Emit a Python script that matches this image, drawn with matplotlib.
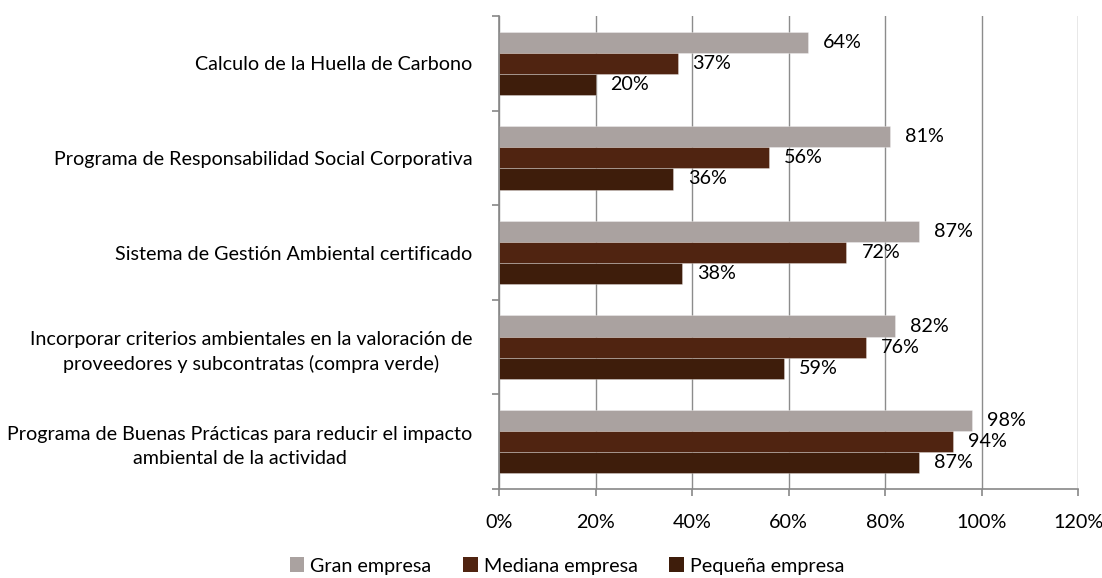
import matplotlib
matplotlib.use("Agg")
import matplotlib.pyplot as plt
import matplotlib.transforms as mtransforms
import numpy as np
from matplotlib.patches import Patch

plt.rcParams['font.family'] = ['Lato', 'DejaVu Sans']

categories = [
    "Calculo de la Huella de Carbono",
    "Programa de Responsabilidad Social Corporativa",
    "Sistema de Gestión Ambiental certificado",
    "Incorporar criterios ambientales en la valoración de\nproveedores y subcontratas (compra verde)",
    "Programa de Buenas Prácticas para reducir el impacto\nambiental de la actividad",
]
series_names = ["Gran empresa", "Mediana empresa", "Pequeña empresa"]
gran = [64, 81, 87, 82, 98]
mediana = [37, 56, 72, 76, 94]
pequena = [20, 36, 38, 59, 87]
xticks = [0, 20, 40, 60, 80, 100, 120]

colors = ["#AAA2A0", "#502411", "#3E1D0B"]
FS = 14.2

fig = plt.figure(figsize=(11.02, 5.78), dpi=100)
ax = fig.add_axes([499/1102, 1 - 489/578, (1078-499)/1102, (489-16)/578])

y = np.arange(len(categories))
h = 0.223
offsets = [-h, 0, h]
for vals, off, c, name in zip([gran, mediana, pequena], offsets, colors, series_names):
    vals = np.array(vals) / 100.0
    bars = ax.barh(y + off, vals, height=h, color=c, edgecolor=(1, 1, 1, 0.35), linewidth=0.6,
                   label=name, zorder=2)
    for b, v in zip(bars, vals):
        ax.annotate(f"{v*100:.0f}%", (b.get_width(), b.get_y() + b.get_height()/2),
                    xytext=(15, 0), textcoords='offset pixels', va='center', ha='left',
                    fontsize=FS, color='black')

ax.set_xlim(0, 1.2)
ax.set_ylim(len(categories) - 0.5, -0.5)
ax.set_xticks(np.array(xticks) / 100.0)
ax.set_xticklabels([f"{t}%" for t in xticks], fontsize=FS)
ax.set_yticks(np.arange(len(categories) + 1) - 0.5)
ax.set_yticklabels([])
ax.set_yticks(y, minor=True)
ylabels = ax.set_yticklabels(categories, minor=True, fontsize=FS, multialignment='center', linespacing=1.45)
shift = mtransforms.ScaledTranslation(0, 4/100, fig.dpi_scale_trans)
for lab in ylabels:
    lab.set_transform(lab.get_transform() + shift)
ax.tick_params(axis='y', which='minor', length=0, pad=19)
ax.tick_params(axis='y', which='major', length=5, color='#888888', width=1.2)
ax.tick_params(axis='x', length=5, color='#888888', width=1.2, pad=13)

ax.grid(axis='x', color='#8C8C8C', linewidth=1.0, zorder=0)
ax.set_axisbelow(True)
for s in ['top', 'right']:
    ax.spines[s].set_visible(False)
for s in ['left', 'bottom']:
    ax.spines[s].set_color('#888888')
    ax.spines[s].set_linewidth(1.2)

handles = [Patch(facecolor=c, edgecolor='none') for c in colors]
fig.legend(handles, series_names, loc='center', bbox_to_anchor=(567/1102, 1 - 566/578),
           ncol=3, frameon=False, fontsize=FS, handlelength=0.75, handleheight=0.75,
           handletextpad=0.3, columnspacing=1.6)

fig.savefig("out.png", dpi=100)
